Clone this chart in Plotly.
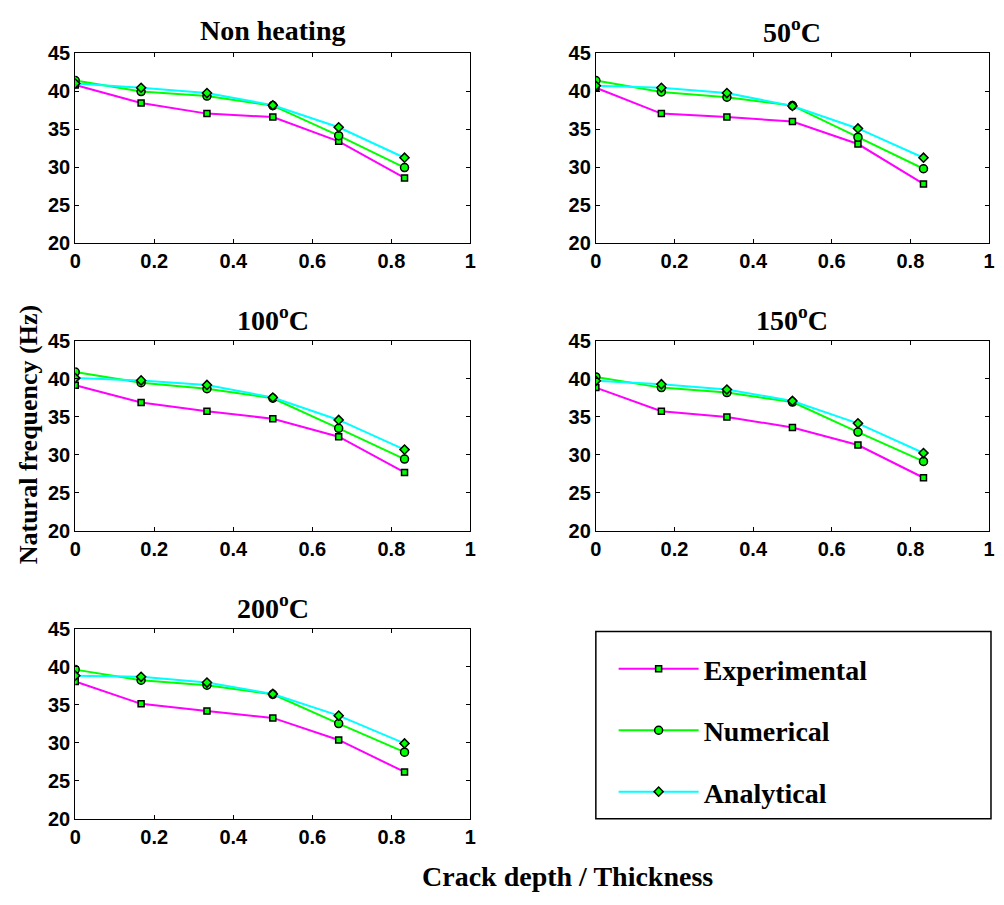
import plotly.graph_objects as go

# page has an 8px body margin; figure is sized to fit inside the 1004x905 window
OFF = 8
W, H = 1004 - 2 * OFF, 905 - 2 * OFF

# ---------------- data ----------------
crack_ratio = [0, 1/6, 1/3, 1/2, 2/3, 5/6]
panel_titles = ["Non heating", "50<sup>o</sup>C", "100<sup>o</sup>C",
                "150<sup>o</sup>C", "200<sup>o</sup>C"]
series_names = ["Experimental", "Numerical", "Analytical"]

experimental = [
    [40.8, 38.45, 37.05, 36.6, 33.4, 28.6],
    [40.45, 37.05, 36.6, 36.0, 33.05, 27.8],
    [39.15, 36.9, 35.75, 34.75, 32.4, 27.7],
    [38.85, 35.75, 35.0, 33.6, 31.3, 27.0],
    [38.05, 35.1, 34.15, 33.25, 30.35, 26.15],
]
numerical = [
    [41.4, 39.95, 39.35, 38.1, 34.15, 29.95],
    [41.4, 39.9, 39.2, 38.1, 33.95, 29.8],
    [40.9, 39.5, 38.7, 37.45, 33.5, 29.45],
    [40.25, 38.85, 38.2, 36.95, 33.0, 29.15],
    [39.6, 38.2, 37.55, 36.35, 32.5, 28.75],
]
analytical = [
    [41.0, 40.45, 39.75, 38.15, 35.25, 31.25],
    [40.7, 40.45, 39.75, 38.05, 35.1, 31.25],
    [40.1, 39.8, 39.2, 37.55, 34.6, 30.7],
    [39.75, 39.3, 38.6, 37.1, 34.15, 30.25],
    [38.8, 38.65, 37.9, 36.4, 33.55, 29.9],
]
x_ticks = [0, 0.2, 0.4, 0.6, 0.8, 1]
x_ticklabels = ["0", "0.2", "0.4", "0.6", "0.8", "1"]
y_ticks = [20, 25, 30, 35, 40, 45]

# ---------------- style ----------------
line_colors = ["#ff00ff", "#00ff00", "#00ffff"]
symbols = ["square", "circle", "diamond"]
sizes = [6, 8, 7]
serif = "Liberation Serif, Times New Roman, serif"
sans = "Liberation Sans, Arial, sans-serif"

# plot areas in window pixels: (left, right, top, bottom)
areas = [
    (70, 470, 43, 238),
    (597, 995, 43, 238),
    (70, 470, 338, 533),
    (597, 995, 338, 533),
    (70, 470, 633, 828),
]

def px(x):
    return (x - OFF) / W

def py(y):
    return 1 - (y - OFF) / H

fig = go.Figure()
all_series = [experimental, numerical, analytical]

for i, (l, r, t, b) in enumerate(areas):
    xa = "x" if i == 0 else f"x{i+1}"
    ya = "y" if i == 0 else f"y{i+1}"
    for s in range(3):
        fig.add_trace(go.Scatter(
            x=crack_ratio, y=all_series[s][i],
            mode="lines+markers",
            name=series_names[s],
            legendgroup=series_names[s],
            showlegend=(i == 0),
            line=dict(color=line_colors[s], width=2),
            marker=dict(symbol=symbols[s], size=sizes[s], color="#00ff00",
                        line=dict(color="black", width=1.5)),
            xaxis=xa, yaxis=ya,
        ))
    axis_common = dict(showline=True, linecolor="black", linewidth=1, mirror="ticks",
                       ticks="inside", ticklen=4, tickcolor="black", showgrid=False,
                       zeroline=False,
                       tickfont=dict(family=sans, size=20, color="black", weight="bold"))
    fig.layout[f"xaxis{'' if i == 0 else i+1}"] = dict(
        domain=[px(l), px(r)], anchor=ya, range=[0, 1],
        tickvals=x_ticks, ticktext=x_ticklabels, **axis_common)
    fig.layout[f"yaxis{'' if i == 0 else i+1}"] = dict(
        domain=[py(b), py(t)], anchor=xa, range=[20, 45],
        tickvals=y_ticks, ticklabelstandoff=0, **axis_common)
    fig.add_annotation(
        x=px((l + r) / 2), y=py(t - 23), xref="paper", yref="paper",
        text=f"<b>{panel_titles[i]}</b>", showarrow=False,
        font=dict(family=serif, size=28, color="black"),
        xanchor="center", yanchor="middle")

# axis titles
fig.add_annotation(x=px(23), y=py(434), xref="paper", yref="paper",
                   text="<b>Natural frequency (Hz)</b>", textangle=-90, showarrow=False,
                   font=dict(family=serif, size=26, color="black"),
                   xanchor="center", yanchor="middle")
fig.add_annotation(x=px(568), y=py(887), xref="paper", yref="paper",
                   text="<b>Crack depth / Thickness</b>", showarrow=False,
                   font=dict(family=serif, size=28, color="black"),
                   xanchor="center", yanchor="middle")

# legend box
fig.add_shape(type="rect", xref="paper", yref="paper",
              x0=px(597), x1=px(997), y0=py(828), y1=py(636),
              line=dict(color="black", width=1.5), fillcolor="rgba(0,0,0,0)")

fig.update_layout(
    width=W, height=H,
    margin=dict(l=0, r=0, t=0, b=0),
    paper_bgcolor="white", plot_bgcolor="white",
    legend=dict(x=px(615), y=py(649), xanchor="left", yanchor="top",
                bgcolor="rgba(0,0,0,0)", borderwidth=0,
                font=dict(family=serif, size=28, color="black", weight="bold"),
                itemwidth=80, tracegroupgap=22),
)

fig.write_html("out.html")
